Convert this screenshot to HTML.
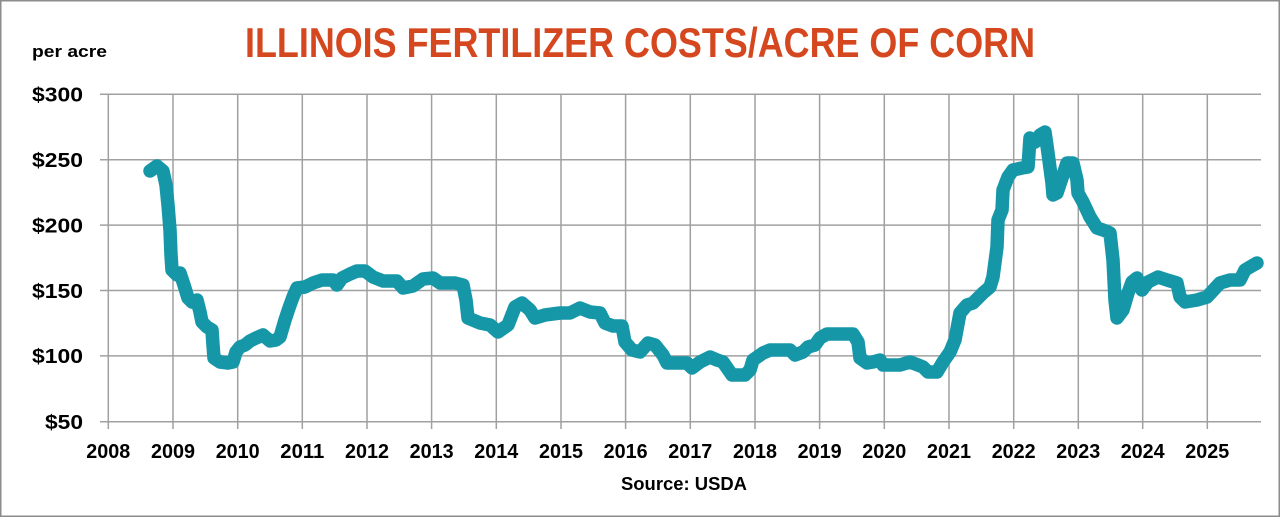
<!DOCTYPE html>
<html>
<head>
<meta charset="utf-8">
<style>
html,body{margin:0;padding:0;background:#fff;}
svg{display:block;}
text{font-family:"Liberation Sans",sans-serif;font-weight:bold;}
</style>
</head>
<body>
<svg width="1280" height="517" viewBox="0 0 1280 517" xmlns="http://www.w3.org/2000/svg">
<rect x="0" y="0" width="1280" height="517" fill="#fff"/>
<rect x="0.75" y="0.75" width="1278.5" height="515.5" fill="none" stroke="#8c8c8c" stroke-width="1.5"/>

<!-- title -->
<text x="245" y="57" font-size="42" fill="#D5471E" textLength="790" lengthAdjust="spacingAndGlyphs">ILLINOIS FERTILIZER COSTS/ACRE OF CORN</text>
<text x="32" y="57" font-size="17" fill="#000" textLength="75" lengthAdjust="spacingAndGlyphs">per acre</text>

<!-- grid -->
<g stroke="#a0a0a0" stroke-width="1.5" fill="none">
<line x1="100" y1="94.3" x2="1261" y2="94.3"/>
<line x1="100" y1="159.7" x2="1261" y2="159.7"/>
<line x1="100" y1="225.1" x2="1261" y2="225.1"/>
<line x1="100" y1="290.5" x2="1261" y2="290.5"/>
<line x1="100" y1="355.9" x2="1261" y2="355.9"/>
<line x1="100" y1="421.7" x2="1261" y2="421.7"/>
<line x1="108.3" y1="94.3" x2="108.3" y2="429"/>
<line x1="173" y1="94.3" x2="173" y2="429"/>
<line x1="237.7" y1="94.3" x2="237.7" y2="429"/>
<line x1="302.3" y1="94.3" x2="302.3" y2="429"/>
<line x1="367" y1="94.3" x2="367" y2="429"/>
<line x1="431.6" y1="94.3" x2="431.6" y2="429"/>
<line x1="496.3" y1="94.3" x2="496.3" y2="429"/>
<line x1="561" y1="94.3" x2="561" y2="429"/>
<line x1="625.6" y1="94.3" x2="625.6" y2="429"/>
<line x1="690.3" y1="94.3" x2="690.3" y2="429"/>
<line x1="755" y1="94.3" x2="755" y2="429"/>
<line x1="819.6" y1="94.3" x2="819.6" y2="429"/>
<line x1="884.3" y1="94.3" x2="884.3" y2="429"/>
<line x1="949" y1="94.3" x2="949" y2="429"/>
<line x1="1013.7" y1="94.3" x2="1013.7" y2="429"/>
<line x1="1078.3" y1="94.3" x2="1078.3" y2="429"/>
<line x1="1142.7" y1="94.3" x2="1142.7" y2="429"/>
<line x1="1207.3" y1="94.3" x2="1207.3" y2="429"/>
</g>

<!-- y labels -->
<g font-size="20" fill="#000" text-anchor="end">
<text x="83" y="101.5" textLength="51" lengthAdjust="spacingAndGlyphs">$300</text>
<text x="83" y="167" textLength="51" lengthAdjust="spacingAndGlyphs">$250</text>
<text x="83" y="232.4" textLength="51" lengthAdjust="spacingAndGlyphs">$200</text>
<text x="83" y="297.8" textLength="51" lengthAdjust="spacingAndGlyphs">$150</text>
<text x="83" y="363.2" textLength="51" lengthAdjust="spacingAndGlyphs">$100</text>
<text x="83" y="429" textLength="38" lengthAdjust="spacingAndGlyphs">$50</text>
</g>

<!-- x labels -->
<g font-size="20" fill="#000" text-anchor="middle">
<text x="108.3" y="458" textLength="44" lengthAdjust="spacingAndGlyphs">2008</text>
<text x="173" y="458" textLength="44" lengthAdjust="spacingAndGlyphs">2009</text>
<text x="237.7" y="458" textLength="44" lengthAdjust="spacingAndGlyphs">2010</text>
<text x="302.3" y="458" textLength="44" lengthAdjust="spacingAndGlyphs">2011</text>
<text x="367" y="458" textLength="44" lengthAdjust="spacingAndGlyphs">2012</text>
<text x="431.6" y="458" textLength="44" lengthAdjust="spacingAndGlyphs">2013</text>
<text x="496.3" y="458" textLength="44" lengthAdjust="spacingAndGlyphs">2014</text>
<text x="561" y="458" textLength="44" lengthAdjust="spacingAndGlyphs">2015</text>
<text x="625.6" y="458" textLength="44" lengthAdjust="spacingAndGlyphs">2016</text>
<text x="690.3" y="458" textLength="44" lengthAdjust="spacingAndGlyphs">2017</text>
<text x="755" y="458" textLength="44" lengthAdjust="spacingAndGlyphs">2018</text>
<text x="819.6" y="458" textLength="44" lengthAdjust="spacingAndGlyphs">2019</text>
<text x="884.3" y="458" textLength="44" lengthAdjust="spacingAndGlyphs">2020</text>
<text x="949" y="458" textLength="44" lengthAdjust="spacingAndGlyphs">2021</text>
<text x="1013.7" y="458" textLength="44" lengthAdjust="spacingAndGlyphs">2022</text>
<text x="1078.3" y="458" textLength="44" lengthAdjust="spacingAndGlyphs">2023</text>
<text x="1142.7" y="458" textLength="44" lengthAdjust="spacingAndGlyphs">2024</text>
<text x="1207.3" y="458" textLength="44" lengthAdjust="spacingAndGlyphs">2025</text>
</g>

<text x="684" y="490" font-size="18" fill="#000" text-anchor="middle" textLength="126" lengthAdjust="spacingAndGlyphs">Source: USDA</text>

<!-- series -->
<polyline fill="none" stroke="#1697A8" stroke-width="13.5" stroke-linejoin="round" stroke-linecap="round" points="
150,171 157,166 163,171 166,185 168,205 170,230 171,255 172,270 177,275 180,273 184,285 188,298 192,302 197,300 200,312 202,322 207,327 212,330 213,345 214,358 220,362 228,363 233,362 236,352 240,347 245,345 250,341 256,338 263,335 270,341 276,340 280,337 285,320 289,308 293,297 297,288 305,287 313,283 322,280 333,280 337,285 342,278 350,274 357,271 365,271 373,277 383,281 397,281 403,288 413,286 423,279 433,278 440,283 455,283 463,285 466,300 468,318 480,323 490,325 498,332 508,325 515,307 522,303 530,310 535,318 545,315 560,313 570,313 580,308 590,312 600,313 605,323 613,326 622,326 625,342 632,350 640,352 648,343 655,345 663,355 667,363 675,363 687,363 692,368 700,362 710,357 717,360 723,362 732,375 740,375 745,375 750,370 753,360 763,353 770,350 790,350 795,355 803,352 808,347 815,345 820,338 827,334 853,334 858,342 860,358 867,363 873,362 880,360 883,365 900,365 910,362 918,365 923,367 928,372 937,372 943,362 950,352 955,340 960,313 967,305 973,303 983,293 990,287 993,277 997,247 998,220 1002,210 1003,190 1008,177 1013,170 1022,168 1028,167 1030,138 1035,142 1040,135 1045,132 1048,153 1052,183 1053,195 1057,193 1063,175 1067,163 1073,163 1077,180 1078,193 1083,202 1090,217 1097,228 1103,230 1108,232 1110,233 1113,260 1115,300 1117,318 1123,310 1128,293 1132,282 1137,278 1142,290 1148,282 1158,277 1167,280 1177,283 1180,297 1185,302 1197,300 1207,297 1220,283 1230,280 1240,280 1245,270 1250,267 1257,263"/>
</svg>
</body>
</html>
